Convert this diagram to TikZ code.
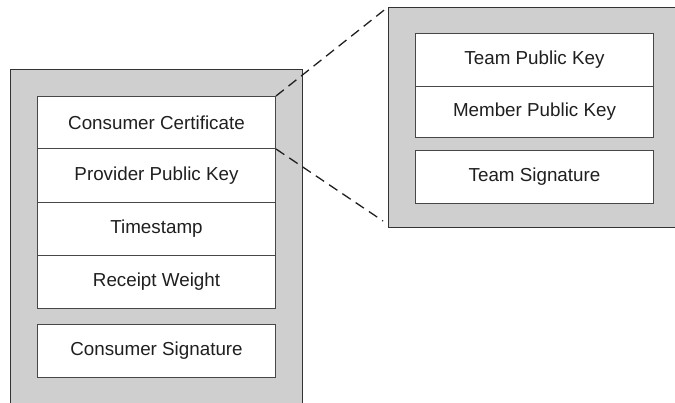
\documentclass[tikz,border=0pt]{standalone}
\usepackage{fontspec}
\setmainfont{Liberation Sans}
\begin{document}
\begin{tikzpicture}[x=1pt,y=-1pt,
  outerbox/.style={draw=black!80, fill=black!19, line width=1.1pt, anchor=north west, inner sep=0pt},
  cell/.style={draw=black!72, fill=white, line width=1pt, anchor=north west, minimum width=238pt, inner sep=0pt, font=\fontsize{18.8}{20}\selectfont, text=black!88},
  zoomline/.style={draw=black!88, line width=1.3pt, dash pattern=on 10pt off 6pt}]
\useasboundingbox (0,0) rectangle (675,402);
\clip (0,0) rectangle (675,402);
% left container
\node[outerbox, minimum width=292pt, minimum height=360pt] (lbox) at (10,69) {};
\node[cell, minimum height=52pt] (cc) at (37,96) {Consumer Certificate};
\node[cell, minimum height=54pt] (ppk) at (37,148) {Provider Public Key};
\node[cell, minimum height=53pt] (ts) at (37,202) {Timestamp};
\node[cell, minimum height=53pt] (rw) at (37,255) {Receipt Weight};
\node[cell, minimum height=53pt] (cs) at (37,324) {Consumer Signature};
% right container
\node[outerbox, minimum width=310pt, minimum height=220pt] (rbox) at (388,7) {};
\node[cell, minimum height=53pt] (tpk) at (415,33) {Team Public Key};
\node[cell, minimum height=51pt] (mpk) at (415,86) {Member Public Key};
\node[cell, minimum height=53pt] (tsig) at (415,150) {Team Signature};
% zoom lines
\coordinate (lowend) at (383,221);
\draw[zoomline] (cc.north east) -- (rbox.north west);
\draw[zoomline] (cc.south east) -- (lowend);
\end{tikzpicture}
\end{document}
